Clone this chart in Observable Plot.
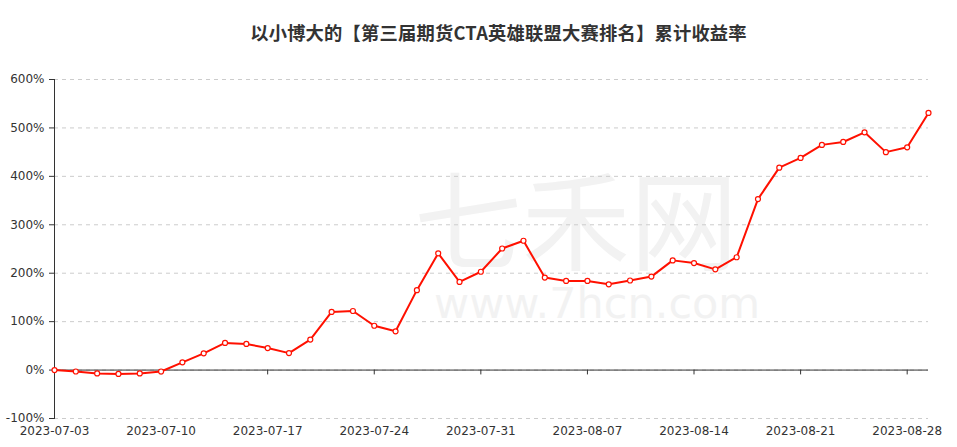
<!DOCTYPE html>
<html>
<head>
<meta charset="utf-8">
<script src="https://cdn.jsdelivr.net/npm/d3@7"></script>
<script src="https://cdn.jsdelivr.net/npm/@observablehq/plot@0.6"></script>
<style>
  html, body { margin: 0; padding: 0; background: #fff; }
  #wrap { position: relative; width: 957px; height: 447px; overflow: hidden; }
  #title { position: absolute; left: 0; top: 19px; width: 997px; text-align: center;
    font-family: "Noto Sans CJK SC", sans-serif; font-weight: bold; font-size: 18.3px; color: #333; line-height: 26px; letter-spacing: 0.2px; }
  #wm1 { position: absolute; left: 414px; top: 165px; font-family: "Noto Sans CJK SC", sans-serif;
    font-size: 108px; line-height: 100px; color: #f2f2f2; letter-spacing: 0px; }
  #wm2 { position: absolute; left: 434px; top: 281px; font-family: "DejaVu Sans", sans-serif;
    font-size: 43px; line-height: 44px; color: #f2f2f2; }
  #chart { position: absolute; left: 0; top: 0; }
</style>
</head>
<body>
<div id="wrap">
  <div id="wm1">七禾网</div>
  <div id="wm2">www.7hcn.com</div>
  <div id="chart"></div>
  <div id="title">以小博大的【第三届期货CTA英雄联盟大赛排名】累计收益率</div>
</div>
<script>
const dates = [
  "2023-07-03","2023-07-04","2023-07-05","2023-07-06","2023-07-07",
  "2023-07-10","2023-07-11","2023-07-12","2023-07-13","2023-07-14",
  "2023-07-17","2023-07-18","2023-07-19","2023-07-20","2023-07-21",
  "2023-07-24","2023-07-25","2023-07-26","2023-07-27","2023-07-28",
  "2023-07-31","2023-08-01","2023-08-02","2023-08-03","2023-08-04",
  "2023-08-07","2023-08-08","2023-08-09","2023-08-10","2023-08-11",
  "2023-08-14","2023-08-15","2023-08-16","2023-08-17","2023-08-18",
  "2023-08-21","2023-08-22","2023-08-23","2023-08-24","2023-08-25",
  "2023-08-28","2023-08-29"
];
const returns = [
  0, -3, -7, -8, -7,
  -3, 16, 34.5, 56, 54,
  45.5, 35, 63, 120, 122,
  91.5, 80, 165, 241, 182,
  203, 251, 267, 191, 184,
  184, 177, 185, 193, 226.5,
  221, 208, 233, 353, 418,
  438, 465, 471, 491, 450,
  460, 531
];
const tickDates = ["2023-07-03","2023-07-10","2023-07-17","2023-07-24","2023-07-31","2023-08-07","2023-08-14","2023-08-21","2023-08-28"];
const yTicks = [-100, 0, 100, 200, 300, 400, 500, 600];

const data = dates.map((d, i) => ({date: d, value: returns[i]}));

const chart = Plot.plot({
  width: 957,
  height: 447,
  marginTop: 79,
  marginBottom: 29,
  marginLeft: 54,
  marginRight: 29,
  style: {fontFamily: "DejaVu Sans, sans-serif", fontSize: "12px", color: "#333", background: "transparent"},
  x: {type: "point", domain: dates, padding: 0, align: 0, round: false},
  y: {domain: [-100, 600]},
  marks: [
    Plot.gridY(yTicks, {stroke: "#cccccc", strokeOpacity: 1, strokeDasharray: "4,4"}),
    Plot.axisY(yTicks, {tickFormat: d => d + "%", tickSize: 5, tickPadding: 5, label: null, fill: "#333", stroke: "#333", strokeOpacity: 1}),
    Plot.axisX(tickDates, {tickSize: 0, tickPadding: 8, label: null, fill: "#333"}),
    Plot.ruleY([0], {stroke: "#333", strokeWidth: 1}),
    Plot.ruleX(tickDates.slice(1), {y1: 0, y2: -10, stroke: "#333"}),
    Plot.frame({anchor: "left", stroke: "#333"}),
    Plot.line(data, {x: "date", y: "value", stroke: "#ff1000", strokeWidth: 2}),
    Plot.dot(data, {x: "date", y: "value", r: 2.5, fill: "white", stroke: "#ff1000", strokeWidth: 1.2})
  ]
});
document.getElementById("chart").appendChild(chart);
</script>
</body>
</html>
